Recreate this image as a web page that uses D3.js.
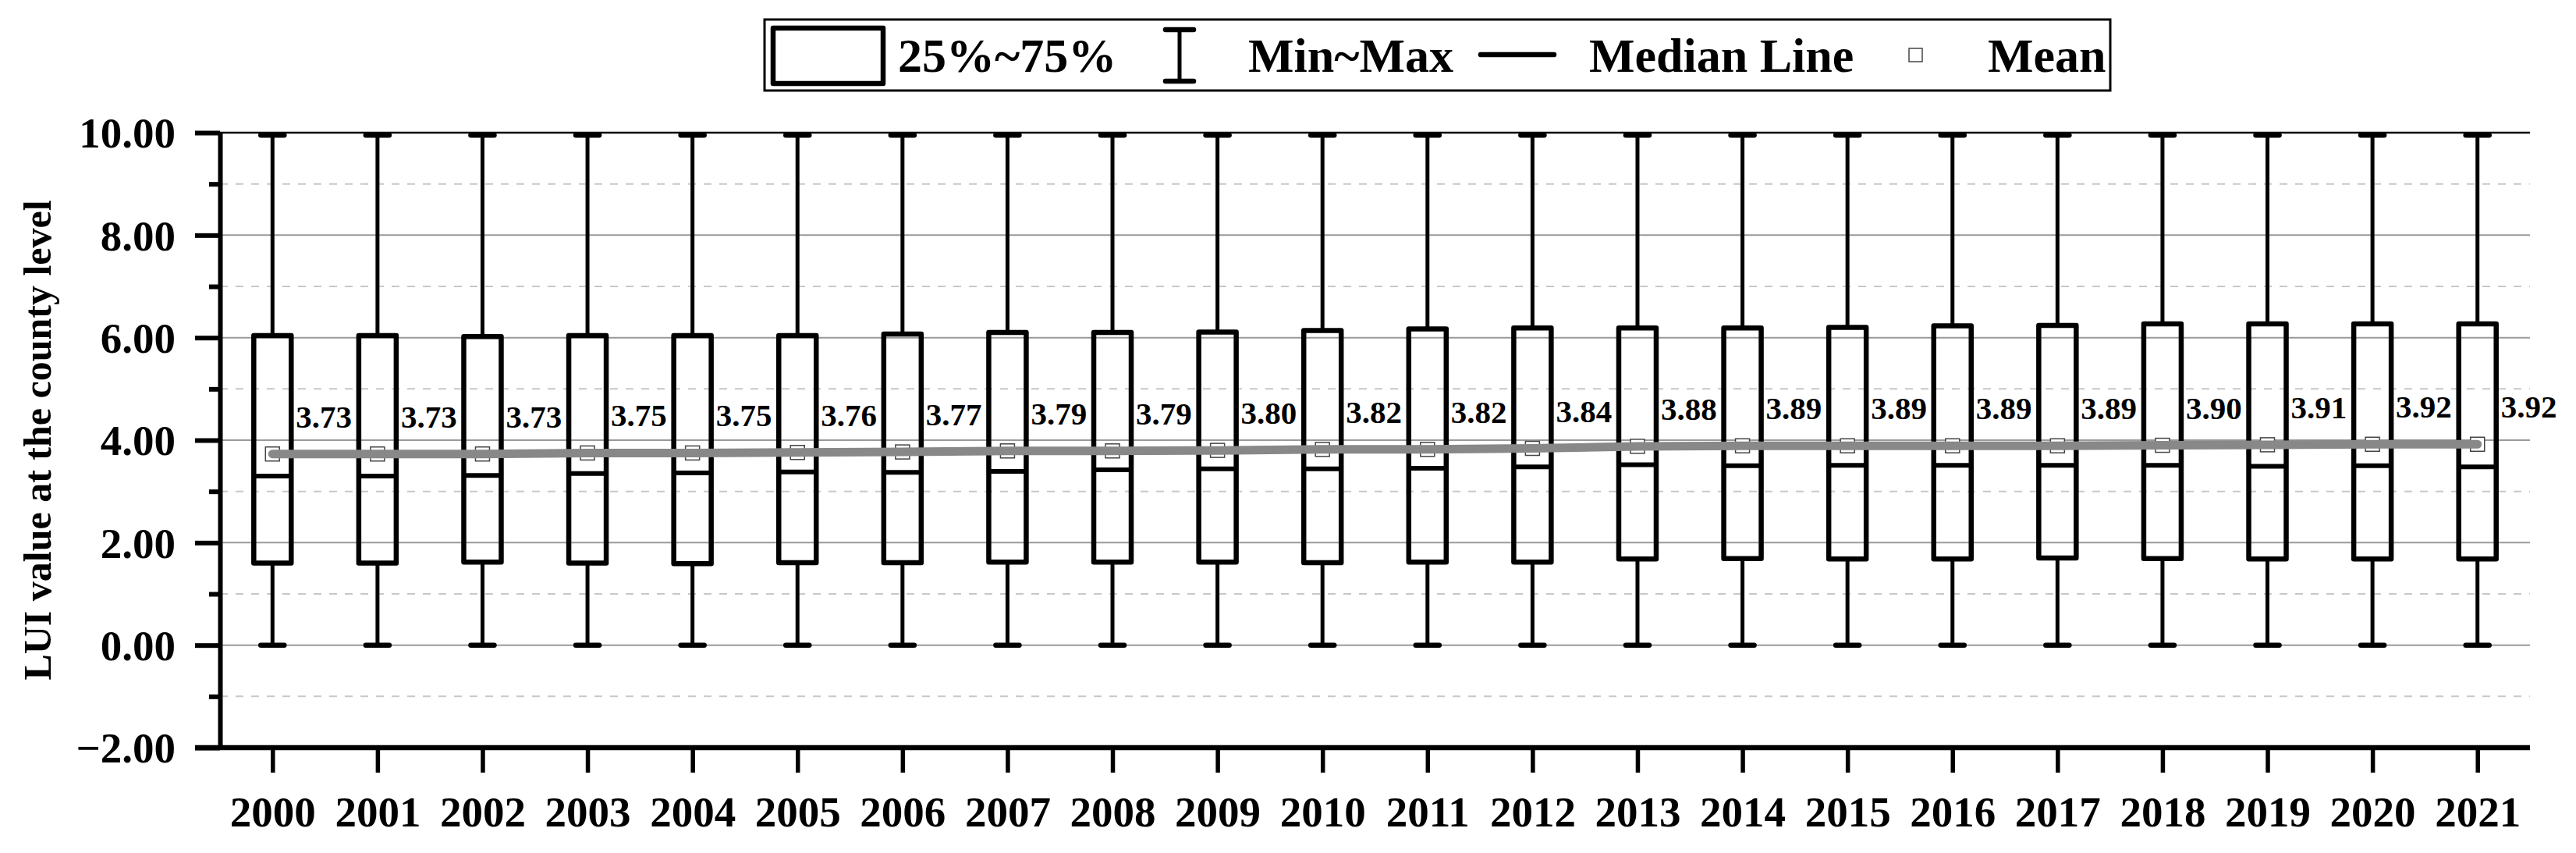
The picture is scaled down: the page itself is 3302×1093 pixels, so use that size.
<!DOCTYPE html>
<html>
<head>
<meta charset="utf-8">
<script src="https://cdn.jsdelivr.net/npm/d3@7"></script>
<style>
  html, body { margin: 0; padding: 0; background: #fff; }
  svg { display: block; }
  text { font-family: "Times New Roman", "Liberation Serif", serif; font-weight: bold; fill: #000; }
</style>
</head>
<body>
<svg id="chart" width="3302" height="1093"></svg>
<script>
// ---- data ----
const years = ["2000","2001","2002","2003","2004","2005","2006","2007","2008","2009","2010",
               "2011","2012","2013","2014","2015","2016","2017","2018","2019","2020","2021"];
const minValues = [0,0,0,0,0,0,0,0,0,0,0,0,0,0,0,0,0,0,0,0,0,0];
const q1Values = [1.60,1.60,1.62,1.60,1.59,1.61,1.61,1.62,1.62,1.62,1.61,1.62,1.62,1.68,1.69,1.68,1.68,1.70,1.69,1.68,1.68,1.68];
const medianValues = [3.30,3.30,3.31,3.35,3.36,3.38,3.37,3.39,3.42,3.44,3.44,3.45,3.48,3.52,3.50,3.51,3.51,3.51,3.51,3.49,3.50,3.48];
const q3Values = [6.04,6.04,6.02,6.04,6.04,6.04,6.07,6.10,6.10,6.11,6.14,6.17,6.19,6.19,6.19,6.20,6.23,6.24,6.27,6.27,6.27,6.27];
const maxValues = [9.95,9.95,9.95,9.95,9.95,9.95,9.95,9.95,9.95,9.95,9.95,9.95,9.95,9.95,9.95,9.95,9.95,9.95,9.95,9.95,9.95,9.95];
const meanValues = [3.73,3.73,3.73,3.75,3.75,3.76,3.77,3.79,3.79,3.80,3.82,3.82,3.84,3.88,3.89,3.89,3.89,3.89,3.90,3.91,3.92,3.92];
const yMajorTicks = [-2,0,2,4,6,8,10];
const yMinorTicks = [-1,1,3,5,7,9];
const legendLabels = ["25%~75%","Min~Max","Median Line","Mean"];
const yTitle = "LUI value at the county level";

const rows = years.map((yr,i)=>({year:yr,min:minValues[i],q1:q1Values[i],med:medianValues[i],q3:q3Values[i],max:maxValues[i],mean:meanValues[i]}));

// ---- layout ----
const pLeft = 282, pRight = 3243, pTop = 170, pBottom = 958;
const svg = d3.select("#chart");

const x = d3.scalePoint().domain(years).range([pLeft,pRight]).padding(0.5);
const y = d3.scaleLinear().domain([-2,10]).range([pBottom,pTop]);

// gridlines
const grid = svg.append("g");
grid.selectAll("line.minor").data(yMinorTicks).join("line").attr("class","minor")
  .attr("x1",pLeft).attr("x2",pRight).attr("y1",d=>y(d)).attr("y2",d=>y(d))
  .attr("stroke","#c8c8c8").attr("stroke-width",2).attr("stroke-dasharray","10,10");
grid.selectAll("line.major").data(yMajorTicks.filter(d=>d>-2 && d<10)).join("line").attr("class","major")
  .attr("x1",pLeft).attr("x2",pRight).attr("y1",d=>y(d)).attr("y2",d=>y(d))
  .attr("stroke","#9a9a9a").attr("stroke-width",2);
// top frame line
svg.append("line").attr("x1",pLeft).attr("x2",pRight).attr("y1",y(10)).attr("y2",y(10))
  .attr("stroke","#000").attr("stroke-width",2.5);

// boxes
const bw = 48, capW = 30;
const g = svg.append("g").attr("stroke","#000").attr("fill","none");
const box = g.selectAll("g.box").data(rows).join("g").attr("class","box");
box.append("line").attr("x1",d=>x(d.year)).attr("x2",d=>x(d.year))
  .attr("y1",d=>y(d.q3)).attr("y2",d=>y(d.max)).attr("stroke-width",5);
box.append("line").attr("x1",d=>x(d.year)).attr("x2",d=>x(d.year))
  .attr("y1",d=>y(d.q1)).attr("y2",d=>y(d.min)).attr("stroke-width",5);
box.append("line").attr("x1",d=>x(d.year)-capW/2).attr("x2",d=>x(d.year)+capW/2)
  .attr("y1",d=>y(d.max)).attr("y2",d=>y(d.max)).attr("stroke-width",6.5).attr("stroke-linecap","round");
box.append("line").attr("x1",d=>x(d.year)-capW/2).attr("x2",d=>x(d.year)+capW/2)
  .attr("y1",d=>y(d.min)).attr("y2",d=>y(d.min)).attr("stroke-width",6.5).attr("stroke-linecap","round");
box.append("rect").attr("x",d=>x(d.year)-bw/2).attr("width",bw)
  .attr("y",d=>y(d.q3)).attr("height",d=>y(d.q1)-y(d.q3))
  .attr("stroke-width",6.5).attr("stroke-linejoin","round");
box.append("line").attr("x1",d=>x(d.year)-bw/2).attr("x2",d=>x(d.year)+bw/2)
  .attr("y1",d=>y(d.med)).attr("y2",d=>y(d.med)).attr("stroke-width",6);

// mean squares
const ms = 18;
svg.append("g").selectAll("rect").data(rows).join("rect")
  .attr("x",d=>x(d.year)-ms/2).attr("y",d=>y(d.mean)-ms/2).attr("width",ms).attr("height",ms)
  .attr("fill","#fff").attr("stroke","#444").attr("stroke-width",1.5);
// mean line
svg.append("path").datum(rows)
  .attr("d",d3.line().x(d=>x(d.year)).y(d=>y(d.mean)))
  .attr("fill","none").attr("stroke","#888").attr("stroke-width",11)
  .attr("stroke-linecap","round").attr("stroke-linejoin","round");
// mean labels
svg.append("g").selectAll("text").data(rows).join("text")
  .attr("x",d=>x(d.year)+30).attr("y",d=>y(d.mean)-34)
  .attr("font-size",41).text(d=>d3.format(".2f")(d.mean));

// y axis
const yAxis = svg.append("g").attr("transform",`translate(${pLeft},0)`)
  .call(d3.axisLeft(y).tickValues(yMajorTicks).tickFormat(d3.format(".2f")).tickSize(32).tickSizeOuter(0).tickPadding(25));
yAxis.select(".domain").attr("stroke-width",6);
yAxis.selectAll(".tick line").attr("stroke-width",6);
yAxis.selectAll(".tick text").attr("font-size",55).attr("font-family",null).attr("dy","0.34em");
const yMinor = svg.append("g").attr("transform",`translate(${pLeft},0)`)
  .call(d3.axisLeft(y).tickValues(yMinorTicks).tickFormat("").tickSize(14).tickSizeOuter(0));
yMinor.select(".domain").remove();
yMinor.selectAll(".tick line").attr("stroke-width",6);

// x axis
const xAxis = svg.append("g").attr("transform",`translate(0,${pBottom})`)
  .call(d3.axisBottom(x).tickSize(32).tickSizeOuter(0).tickPadding(30));
xAxis.select(".domain").attr("stroke-width",6.5).attr("d",`M${pLeft-32},0H${pRight}`);
xAxis.selectAll(".tick line").attr("stroke-width",5.5);
xAxis.selectAll(".tick text").attr("font-size",55).attr("font-family",null).attr("dy","0.71em");

// y title
svg.append("text").attr("transform",`translate(65,${(pTop+pBottom)/2}) rotate(-90)`)
  .attr("text-anchor","middle").attr("font-size",50).text(yTitle);

// legend
const lg = svg.append("g");
lg.append("rect").attr("x",980).attr("y",25).attr("width",1725).attr("height",91)
  .attr("fill","#fff").attr("stroke","#000").attr("stroke-width",3);
lg.append("rect").attr("x",991).attr("y",36).attr("width",141).attr("height",71)
  .attr("fill","none").attr("stroke","#000").attr("stroke-width",6.5).attr("stroke-linejoin","round");
lg.append("line").attr("x1",1512).attr("x2",1512).attr("y1",38).attr("y2",104).attr("stroke","#000").attr("stroke-width",5);
lg.append("line").attr("x1",1494).attr("x2",1530).attr("y1",38).attr("y2",38).attr("stroke","#000").attr("stroke-width",6.5).attr("stroke-linecap","round");
lg.append("line").attr("x1",1494).attr("x2",1530).attr("y1",104).attr("y2",104).attr("stroke","#000").attr("stroke-width",6.5).attr("stroke-linecap","round");
lg.append("line").attr("x1",1898).attr("x2",1992).attr("y1",70).attr("y2",70).attr("stroke","#000").attr("stroke-width",6.5).attr("stroke-linecap","round");
lg.append("rect").attr("x",2447).attr("y",62).attr("width",17).attr("height",17).attr("fill","#fff").attr("stroke","#444").attr("stroke-width",1.5);
const lx = [1151,1600,2037,2548];
lg.selectAll("text").data(legendLabels).join("text")
  .attr("x",(d,i)=>lx[i]).attr("y",92).attr("font-size",62).text(d=>d);
</script>
</body>
</html>
